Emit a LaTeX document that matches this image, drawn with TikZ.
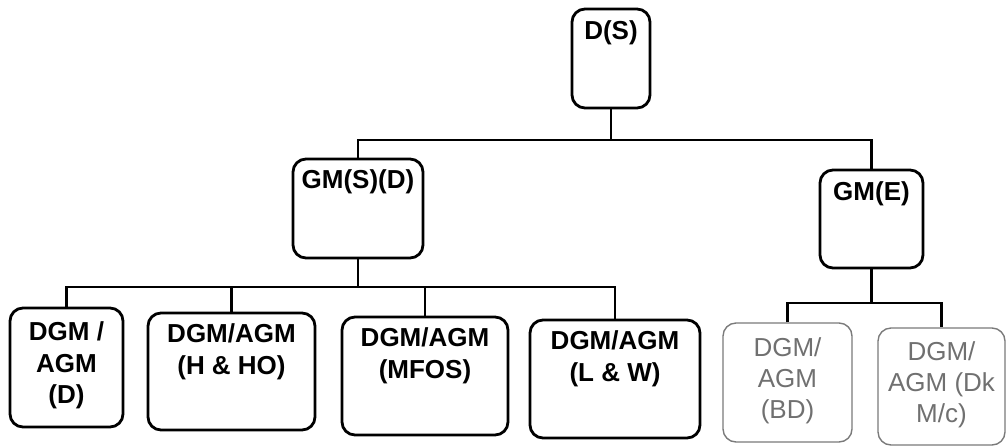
\documentclass[tikz,border=0pt]{standalone}
\usepackage{fontspec}
\setmainfont{Liberation Sans}
\definecolor{softgray}{HTML}{7A7A7A}
\definecolor{textgray}{HTML}{707070}
\begin{document}
\begin{tikzpicture}[x=1pt,y=-1pt,
  boxbase/.style={rectangle,rounded corners=13pt,inner sep=0pt},
  darkbox/.style={boxbase,draw=black,line width=2.8pt},
  lightbox/.style={boxbase,draw=softgray,line width=1.4pt},
  darktext/.style={anchor=north,inner sep=0pt,align=center,
    font=\fontsize{26}{31.5}\selectfont\bfseries},
  lighttext/.style={anchor=north,inner sep=0pt,align=center,text=textgray,
    font=\fontsize{26}{31}\selectfont},
  conn/.style={draw=black,line width=2.4pt}]
\useasboundingbox (0,0) rectangle (1008,445);
% boxes
\node[darkbox,minimum width=78pt,minimum height=99pt] (ds) at (611,58.5) {};
\node[darkbox,minimum width=130pt,minimum height=99pt] (gmsd) at (358,208.5) {};
\node[darkbox,minimum width=103pt,minimum height=98pt] (gme) at (871.5,219) {};
\node[darkbox,minimum width=113pt,minimum height=119pt] (b1) at (66.5,367.5) {};
\node[darkbox,minimum width=167pt,minimum height=117pt] (b2) at (231.5,371.5) {};
\node[darkbox,minimum width=166pt,minimum height=118pt] (b3) at (425,376) {};
\node[darkbox,minimum width=170pt,minimum height=118pt] (b4) at (615,379) {};
\node[lightbox,minimum width=129pt,minimum height=119pt] (b5) at (787.5,382.5) {};
\node[lightbox,minimum width=127pt,minimum height=117pt] (b6) at (941.5,386.5) {};
% texts
\node[darktext,yshift=-13pt] (tds) at (ds.north) {D(S)};
\node[darktext,yshift=-12pt] (tgmsd) at (gmsd.north) {GM(S)(D)};
\node[darktext,yshift=-13pt] (tgme) at (gme.north) {GM(E)};
\node[darktext,yshift=-15pt] (tb1) at (b1.north) {DGM /\\AGM\\(D)};
\node[darktext,yshift=-12pt] (tb2) at (b2.north) {DGM/AGM\\(H \& HO)};
\node[darktext,yshift=-12pt] (tb3) at (b3.north) {DGM/AGM\\(MFOS)};
\node[darktext,yshift=-12pt] (tb4) at (b4.north) {DGM/AGM\\(L \& W)};
\node[lighttext,yshift=-15pt] (tb5) at (b5.north) {DGM/\\AGM\\(BD)};
\node[lighttext,yshift=-14pt] (tb6) at (b6.north) {DGM/\\AGM (Dk\\M/c)};
% bus coordinates
\coordinate (bus1) at (0,140);
\coordinate (bus2) at (0,287);
\coordinate (bus3) at (0,303);
% connectors
\draw[conn] (ds.south) -- (ds.south |- bus1);
\draw[conn] (gmsd.north) -- (gmsd.north |- bus1) -- (gme.north |- bus1) -- (gme.north);
\draw[conn] (gmsd.south) -- (gmsd.south |- bus2);
\draw[conn] (b1.north) -- (b1.north |- bus2) -- (b4.north |- bus2) -- (b4.north);
\draw[conn] (b2.north) -- (b2.north |- bus2);
\draw[conn] (b3.north) -- (b3.north |- bus2);
\draw[conn] (gme.south) -- (gme.south |- bus3);
\draw[conn] (b5.north) -- (b5.north |- bus3) -- (b6.north |- bus3) -- (b6.north);
\end{tikzpicture}
\end{document}
